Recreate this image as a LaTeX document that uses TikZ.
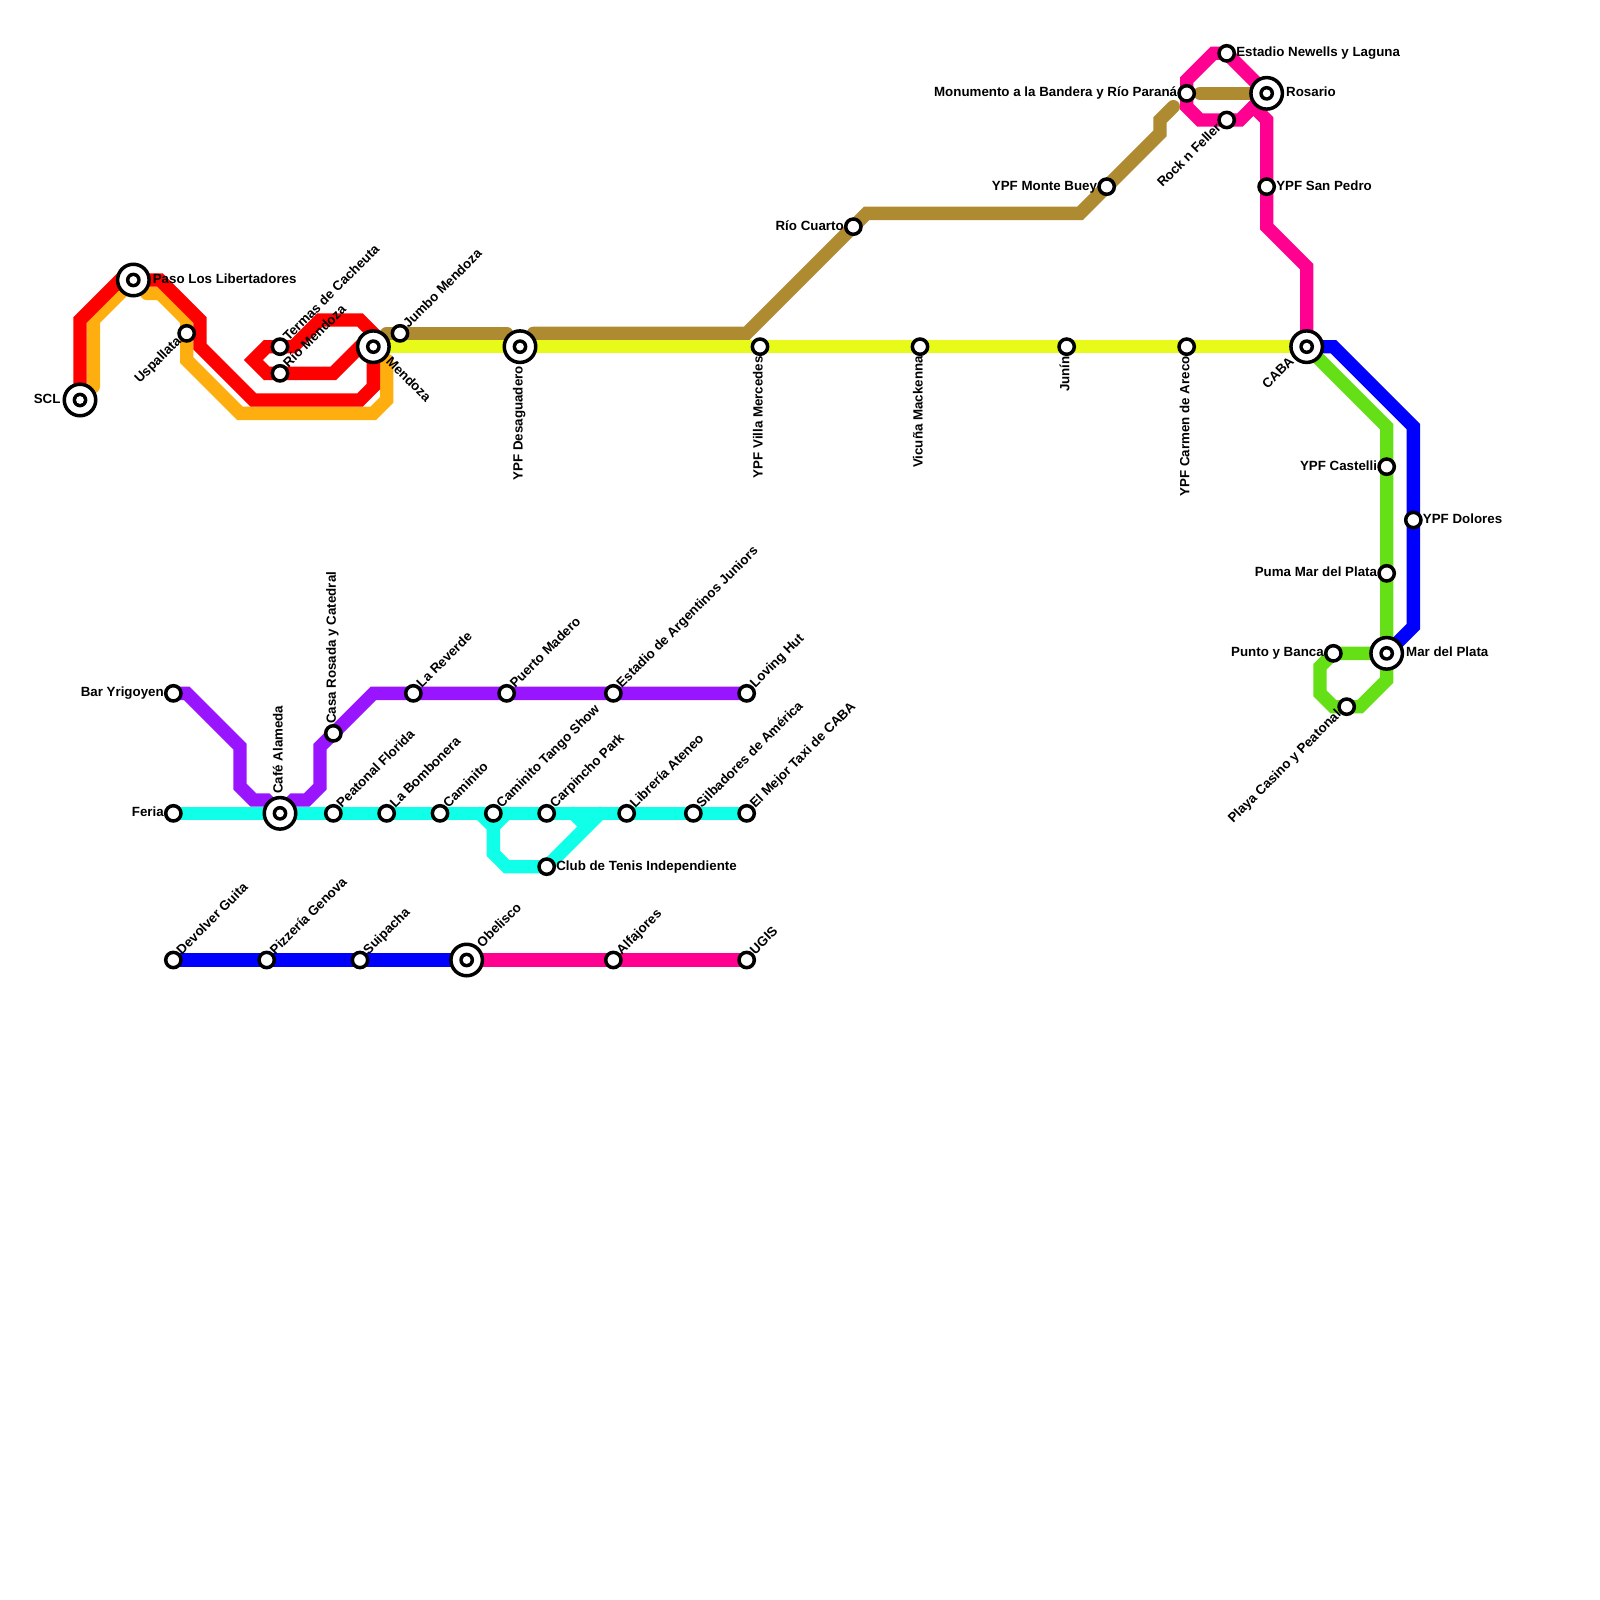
\documentclass[tikz,border=0pt]{standalone}
\usepackage{fontspec}
\setmainfont{Liberation Sans}
\usepackage{xcolor}
\usetikzlibrary{backgrounds}
\definecolor{lred}{HTML}{FF0000}
\definecolor{lorange}{HTML}{FFAE10}
\definecolor{lbrown}{HTML}{AE8B30}
\definecolor{lyellow}{HTML}{E8FA1A}
\definecolor{lpink}{HTML}{FF0090}
\definecolor{lblue}{HTML}{0000FF}
\definecolor{lgreen}{HTML}{66E016}
\definecolor{lpurple}{HTML}{9915FF}
\definecolor{lcyan}{HTML}{10FFE8}
\begin{document}
\begin{tikzpicture}[
    x=13.333pt, y=-13.333pt,
    metro/.style={line width=13.333pt, line join=miter, miter limit=2, line cap=round},
    stn/.style={circle, draw=black, fill=white, line width=3.5pt, inner sep=0pt,
                minimum size=15.3pt},
    bigstn/.style={stn, minimum size=31.5pt,
                path picture={
                  \fill[black] (path picture bounding box.center) circle (7.4pt);
                  \fill[white] (path picture bounding box.center) circle (3.9pt);}},
    lbl/.style={font=\fontsize{13.33}{16}\selectfont\bfseries, inner sep=0pt, text=black},
    lblbig/.style={lbl, outer sep=2pt},
    lr/.style={label={[lbl,anchor=mid west,yshift=-1pt]0:#1}},
    ll/.style={label={[lbl,anchor=mid east,yshift=-1pt]180:#1}},
    ltr/.style={label={[lbl,anchor=mid west,rotate=45]45:#1}},
    lbl45/.style={label={[lbl,anchor=mid east,rotate=45]225:#1}},
    lup/.style={label={[lbl,anchor=mid west,rotate=90]90:#1}},
    ldn/.style={label={[lbl,anchor=mid east,rotate=90]270:#1}},
    blr/.style={label={[lblbig,anchor=mid west,yshift=-1pt]0:#1}},
    bll/.style={label={[lblbig,anchor=mid east,yshift=-1pt]180:#1}},
    bltr/.style={label={[lblbig,anchor=mid west,rotate=45]45:#1}},
    blbl/.style={label={[lblbig,anchor=mid east,rotate=45]225:#1}},
    blbr/.style={label={[lblbig,anchor=mid west,rotate=-45]315:#1}},
    blup/.style={label={[lblbig,anchor=mid west,rotate=90]90:#1}},
    bldn/.style={label={[lblbig,anchor=mid east,rotate=90]270:#1}},
  ]
    \useasboundingbox (0,0) rectangle (120,120);

    % ---- west: Andes and Mendoza ----
    \node[bigstn, bll=SCL] (scl) at (6,30) {};
    \node[bigstn, blr=Paso Los Libertadores] (paso) at (10,21) {};
    \node[stn, lbl45=Uspallata] (uspallata) at (14,25) {};
    \node[stn, ltr=Termas de Cacheuta] (termas) at (21,26) {};
    \node[stn, ltr=Río Mendoza] (riomza) at (21,28) {};
    \node[bigstn, blbr=Mendoza] (mendoza) at (28,26) {};
    \node[stn, ltr=Jumbo Mendoza] (jumbo) at (30,25) {};

    % ---- ruta to Buenos Aires ----
    \node[bigstn, bldn=YPF Desaguadero] (desag) at (39,26) {};
    \node[stn, ldn=YPF Villa Mercedes] (villa) at (57,26) {};
    \node[stn, ldn=Vicuña Mackenna] (vicuna) at (69,26) {};
    \node[stn, ldn=Junín] (junin) at (80,26) {};
    \node[stn, ldn=YPF Carmen de Areco] (areco) at (89,26) {};
    \node[bigstn, blbl=CABA] (caba) at (98,26) {};
    \node[stn, ll=Río Cuarto] (cuarto) at (64,17) {};
    \node[stn, ll=YPF Monte Buey] (buey) at (83,14) {};

    % ---- Rosario ----
    \node[stn, ll=Monumento a la Bandera y Río Paraná] (monumento) at (89,7) {};
    \node[bigstn, blr=Rosario] (rosario) at (95,7) {};
    \node[stn, lr=Estadio Newells y Laguna] (newells) at (92,4) {};
    \node[stn, lbl45=Rock n Feller] (rock) at (92,9) {};
    \node[stn, lr=YPF San Pedro] (pedro) at (95,14) {};

    % ---- Mar del Plata ----
    \node[stn, ll=YPF Castelli] (castelli) at (104,35) {};
    \node[stn, lr=YPF Dolores] (dolores) at (106,39) {};
    \node[stn, ll=Puma Mar del Plata] (puma) at (104,43) {};
    \node[bigstn, blr=Mar del Plata] (mdp) at (104,49) {};
    \node[stn, ll=Punto y Banca] (punto) at (100,49) {};
    \node[stn, lbl45=Playa Casino y Peatonal] (playa) at (101,53) {};

    % ---- city: purple row ----
    \node[stn, ll=Bar Yrigoyen] (bar) at (13,52) {};
    \node[stn, lup=Casa Rosada y Catedral] (casa) at (25,55) {};
    \node[stn, ltr=La Reverde] (reverde) at (31,52) {};
    \node[stn, ltr=Puerto Madero] (madero) at (38,52) {};
    \node[stn, ltr=Estadio de Argentinos Juniors] (argentinos) at (46,52) {};
    \node[stn, ltr=Loving Hut] (loving) at (56,52) {};

    % ---- city: cyan row ----
    \node[stn, ll=Feria] (feria) at (13,61) {};
    \node[bigstn, blup=Café Alameda] (cafe) at (21,61) {};
    \node[stn, ltr=Peatonal Florida] (peatonal) at (25,61) {};
    \node[stn, ltr=La Bombonera] (bombonera) at (29,61) {};
    \node[stn, ltr=Caminito] (caminito) at (33,61) {};
    \node[stn, ltr=Caminito Tango Show] (tango) at (37,61) {};
    \node[stn, ltr=Carpincho Park] (carpincho) at (41,61) {};
    \node[stn, ltr=Librería Ateneo] (ateneo) at (47,61) {};
    \node[stn, ltr=Silbadores de América] (silbadores) at (52,61) {};
    \node[stn, ltr=El Mejor Taxi de CABA] (taxi) at (56,61) {};
    \node[stn, lr=Club de Tenis Independiente] (club) at (41,65) {};

    % ---- city: bottom row ----
    \node[stn, ltr=Devolver Guita] (guita) at (13,72) {};
    \node[stn, ltr=Pizzería Genova] (genova) at (20,72) {};
    \node[stn, ltr=Suipacha] (suipacha) at (27,72) {};
    \node[bigstn, bltr=Obelisco] (obelisco) at (35,72) {};
    \node[stn, ltr=Alfajores] (alfajores) at (46,72) {};
    \node[stn, ltr=UGIS] (ugis) at (56,72) {};

    % ---- the lines go under the stations ----
    \begin{scope}[on background layer]
      \draw[metro, lorange] (7,29) -- (7,24) -- (paso.center);
      \draw[metro, lorange] (11,22) -- (12,22) -- (14,24) -- (uspallata.center) -- (14,27) -- (18,31)
        -- (28,31) -- (29,30) -- (29,27);
      \draw[metro, lred] (scl.center) -- (6,24) -- (9,21) -- (paso.center) -- (12,21) -- (15,24) -- (15,26)
        -- (19,30) -- (27,30) -- (28,29) -- (mendoza.center) -- (27,26) -- (25,28) -- (riomza.center)
        -- (20,28) -- (19,27) -- (20,26) -- (termas.center) -- (22,26) -- (24,24) -- (27,24) -- (28,25)
        -- (mendoza.center);
      \draw[metro, lbrown] (29,25) -- (jumbo.center) -- (38,25);
      \draw[metro, lbrown] (40,25) -- (56,25) -- (cuarto.center) -- (65,16) -- (81,16) -- (buey.center)
        -- (87,10) -- (87,9) -- (88,8);
      \draw[metro, lbrown] (90,7) -- (rosario.center);
      \draw[metro, lyellow] (mendoza.center) -- (desag.center) -- (villa.center) -- (vicuna.center)
        -- (junin.center) -- (areco.center) -- (caba.center);
      \draw[metro, lpink] (rosario.center) -- (newells.center) -- (91,4) -- (89,6) -- (monumento.center)
        -- (89,8) -- (90,9) -- (rock.center) -- (93,9) -- (rosario.center);
      \draw[metro, lpink] (94,8) -- (95,9) -- (pedro.center) -- (95,17) -- (98,20) -- (caba.center);
      \draw[metro, lblue] (caba.center) -- (100,26) -- (106,32) -- (dolores.center) -- (106,47) -- (mdp.center);
      \draw[metro, lgreen] (caba.center) -- (104,32) -- (castelli.center) -- (puma.center) -- (mdp.center)
        -- (104,51) -- (102,53) -- (playa.center) -- (100,53) -- (99,52) -- (99,50) -- (punto.center) -- (mdp.center);
      \draw[metro, lpurple] (bar.center) -- (14,52) -- (18,56) -- (18,59) -- (19,60) -- (20,60) -- (cafe.center)
        -- (22,60) -- (23,60) -- (24,59) -- (24,56) -- (casa.center) -- (28,52) -- (reverde.center)
        -- (madero.center) -- (argentinos.center) -- (loving.center);
      \draw[metro, lcyan] (feria.center) -- (cafe.center) -- (peatonal.center) -- (bombonera.center)
        -- (caminito.center) -- (tango.center) -- (carpincho.center) -- (ateneo.center)
        -- (silbadores.center) -- (taxi.center);
      \draw[metro, lcyan] (36,61) -- (37,62) -- (37,64) -- (38,65) -- (club.center) -- (45,61);
      \draw[metro, lcyan] (38,61) -- (37,62);
      \draw[metro, lcyan] (43,61) -- (44,62);
      \draw[metro, lblue] (guita.center) -- (genova.center) -- (suipacha.center) -- (obelisco.center);
      \draw[metro, lpink] (obelisco.center) -- (alfajores.center) -- (ugis.center);
    \end{scope}
\end{tikzpicture}
\end{document}
